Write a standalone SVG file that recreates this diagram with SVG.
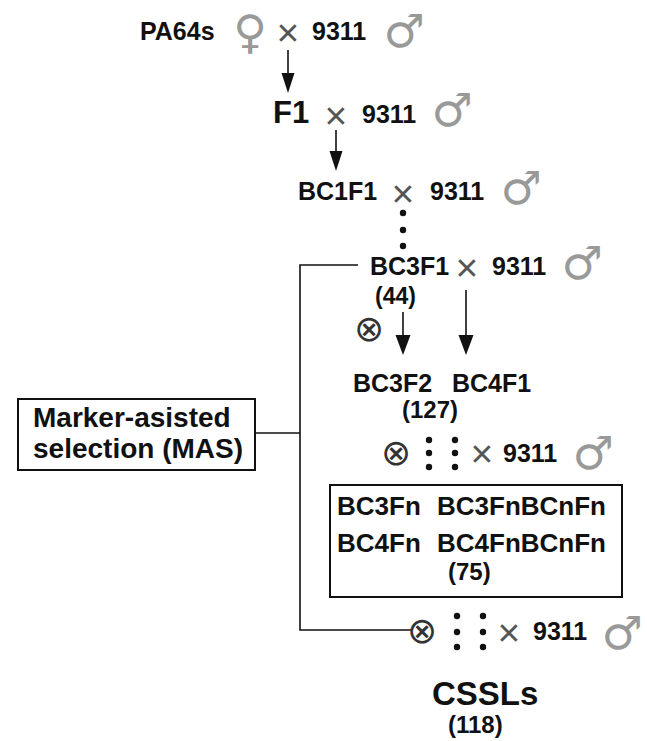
<svg xmlns="http://www.w3.org/2000/svg" width="647" height="741" viewBox="0 0 647 741">
<defs>
<style>
.t{font-family:"Liberation Sans",Arial,sans-serif;font-weight:bold;fill:#111;}
.x{font-family:"Liberation Sans",Arial,sans-serif;font-weight:normal;fill:#555;text-anchor:middle;font-size:39px;}
.g{font-family:"DejaVu Sans",sans-serif;fill:#999;text-anchor:middle;font-size:46px;}
.s{font-family:"DejaVu Sans",sans-serif;fill:#333;text-anchor:middle;font-size:36px;}
.ln{stroke:#111;stroke-width:1.6;fill:none;}
.box{fill:#fff;stroke:#111;stroke-width:2;}
.dot{fill:#111;}
.ah{fill:#111;}
</style>
</defs>
<rect width="647" height="741" fill="#fff"/>

<g id="connectors">
<path class="ln" d="M288,50 V75"/>
<path class="ah" d="M281.5,73 L294.5,73 L288,93 Z"/>
<path class="ln" d="M336,130 V153"/>
<path class="ah" d="M329.5,151 L342.5,151 L336,171 Z"/>
<path class="ln" d="M403,312 V337"/>
<path class="ah" d="M395.5,335 L410.5,335 L403,355 Z"/>
<path class="ln" d="M466,290 V337"/>
<path class="ah" d="M458.5,335 L473.5,335 L466,355 Z"/>
<polyline class="ln" points="358,265 300,265 300,630 412,630"/>
<line class="ln" x1="255" y1="433" x2="300" y2="433"/>
<circle class="dot" cx="403" cy="213" r="3.2"/>
<circle class="dot" cx="403" cy="230" r="3.2"/>
<circle class="dot" cx="403" cy="246" r="3.2"/>
<circle class="dot" cx="429" cy="440" r="3.2"/>
<circle class="dot" cx="429" cy="453" r="3.2"/>
<circle class="dot" cx="429" cy="467" r="3.2"/>
<circle class="dot" cx="455" cy="440" r="3.2"/>
<circle class="dot" cx="455" cy="453" r="3.2"/>
<circle class="dot" cx="455" cy="467" r="3.2"/>
<circle class="dot" cx="457" cy="616" r="3.2"/>
<circle class="dot" cx="457" cy="632" r="3.2"/>
<circle class="dot" cx="457" cy="647" r="3.2"/>
<circle class="dot" cx="483" cy="616" r="3.2"/>
<circle class="dot" cx="483" cy="632" r="3.2"/>
<circle class="dot" cx="483" cy="647" r="3.2"/>
</g>

<g id="row-pa64s">
<text class="t" x="140" y="40" font-size="25">PA64s</text>
<text class="g" x="250" y="48" font-size="44">♀</text>
<text class="x" x="288" y="46">×</text>
<text class="t" x="312" y="40" font-size="25">9311</text>
<text class="g" x="404" y="47">♂</text>
</g>

<g id="row-f1">
<text class="t" x="273" y="123" font-size="31">F1</text>
<text class="x" x="336" y="129">×</text>
<text class="t" x="362" y="123" font-size="25">9311</text>
<text class="g" x="452" y="126">♂</text>
</g>

<g id="row-bc1f1">
<text class="t" x="298" y="200" font-size="25">BC1F1</text>
<text class="x" x="403" y="207">×</text>
<text class="t" x="430" y="200" font-size="25">9311</text>
<text class="g" x="521" y="204">♂</text>
</g>

<g id="row-bc3f1">
<text class="t" x="370" y="275" font-size="25">BC3F1</text>
<text class="x" x="467" y="281">×</text>
<text class="t" x="492" y="275" font-size="25">9311</text>
<text class="g" x="582" y="279">♂</text>
<text class="t" x="375" y="304" font-size="23">(44)</text>
<text class="s" x="369" y="341">⊗</text>
</g>

<g id="row-bc3f2">
<text class="t" x="353" y="392" font-size="25">BC3F2</text>
<text class="t" x="452" y="392" font-size="25">BC4F1</text>
<text class="t" x="402" y="418" font-size="24">(127)</text>
</g>

<g id="row-cross2">
<text class="s" x="396" y="465">⊗</text>
<text class="x" x="482" y="467">×</text>
<text class="t" x="503" y="462" font-size="25">9311</text>
<text class="g" x="593" y="469">♂</text>
</g>

<g id="box-bcfn">
<rect class="box" x="330" y="485" width="292" height="112"/>
<text class="t" x="337" y="515" font-size="26">BC3Fn</text>
<text class="t" x="437" y="515" font-size="26">BC3FnBCnFn</text>
<text class="t" x="337" y="552" font-size="26">BC4Fn</text>
<text class="t" x="437" y="552" font-size="26">BC4FnBCnFn</text>
<text class="t" x="448" y="580" font-size="24">(75)</text>
</g>

<g id="box-mas">
<rect class="box" x="18" y="399" width="237" height="71"/>
<text class="t" x="33" y="427" font-size="28">Marker-asisted</text>
<text class="t" x="33" y="458" font-size="28">selection (MAS)</text>
</g>

<g id="row-cross3">
<text class="s" x="422" y="643">⊗</text>
<text class="x" x="509" y="646">×</text>
<text class="t" x="533" y="640" font-size="25">9311</text>
<text class="g" x="622" y="649">♂</text>
</g>

<g id="cssls">
<text class="t" x="432" y="705" font-size="33">CSSLs</text>
<text class="t" x="448" y="733" font-size="24">(118)</text>
</g>
</svg>
